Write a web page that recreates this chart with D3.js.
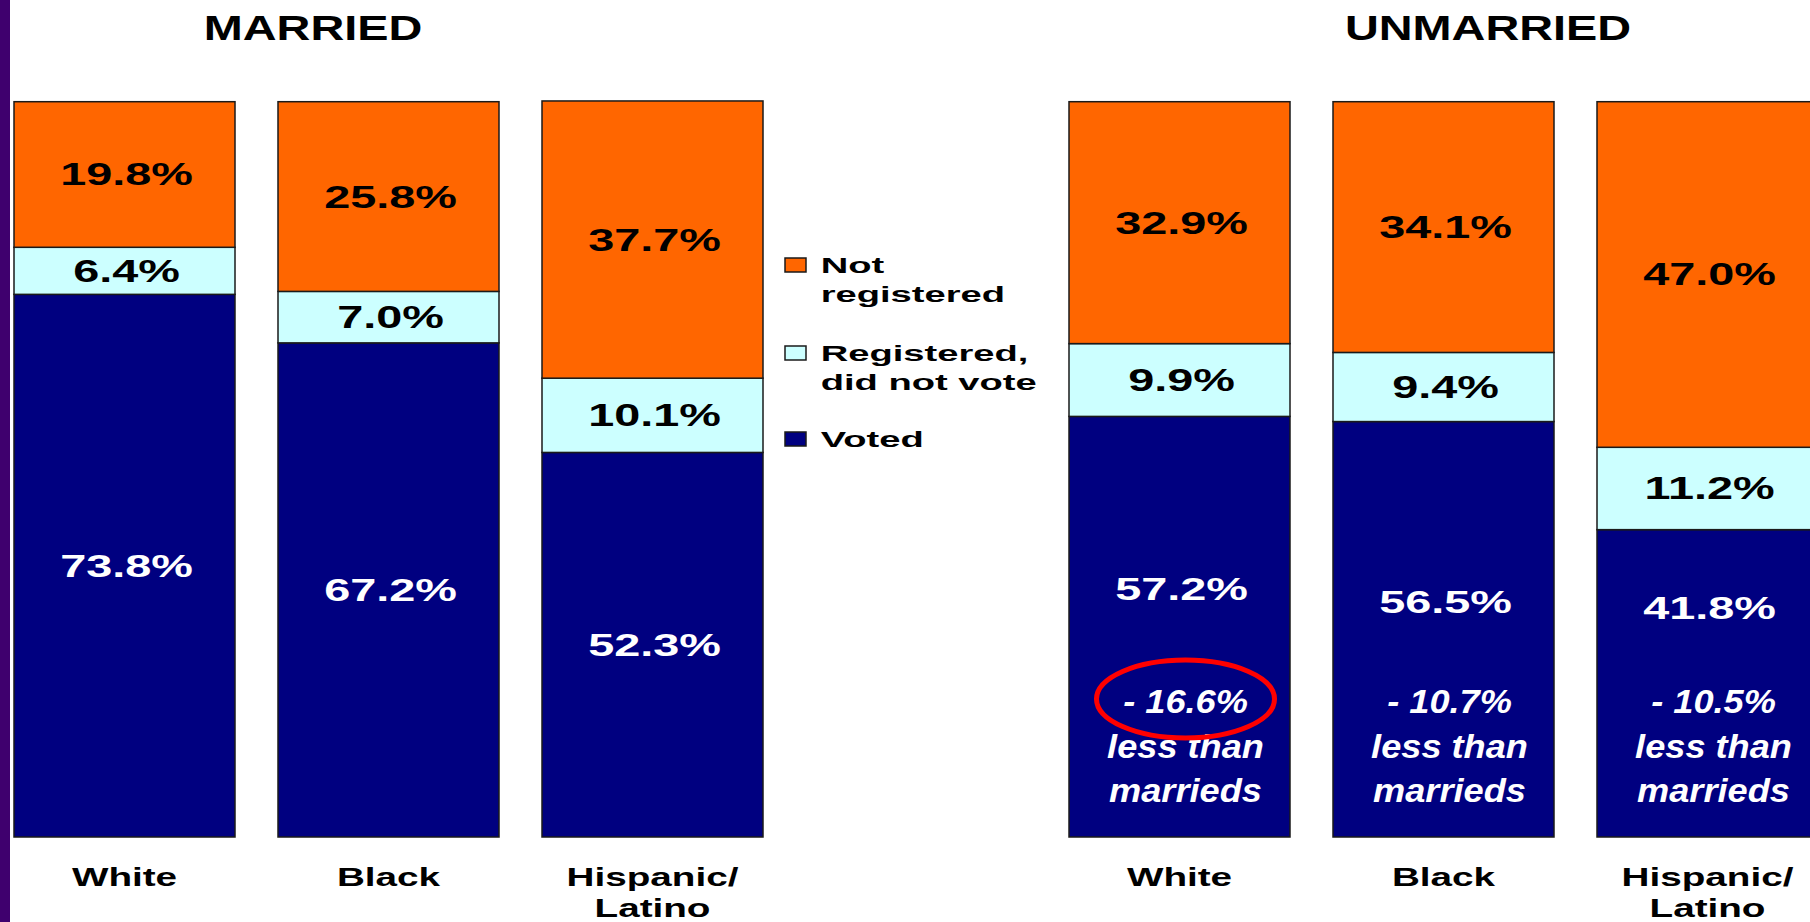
<!DOCTYPE html>
<html>
<head>
<meta charset="utf-8">
<script src="https://cdn.jsdelivr.net/npm/d3@7"></script>
<style>
  html, body { margin: 0; padding: 0; background: #fff; }
  svg { display: block; }
  text { font-family: "Liberation Sans", Arial, sans-serif; font-weight: bold; }
</style>
</head>
<body>
<svg id="chart" width="1810" height="922"></svg>
<script>
// ---- data ----
const categories = ["White", "Black", "Hispanic/Latino"];
const categoryLines = [["White"], ["Black"], ["Hispanic/", "Latino"]];
const groupTitles = ["MARRIED", "UNMARRIED"];
const seriesNames = ["Voted", "Registered, did not vote", "Not registered"];
const legendLines = [["Not", "registered"], ["Registered,", "did not vote"], ["Voted"]];

const marriedVoted = [73.8, 67.2, 52.3];
const marriedRegNoVote = [6.4, 7.0, 10.1];
const marriedNotRegistered = [19.8, 25.8, 37.7];

const unmarriedVoted = [57.2, 56.5, 41.8];
const unmarriedRegNoVote = [9.9, 9.4, 11.2];
const unmarriedNotRegistered = [32.9, 34.1, 47.0];

// ---- styling ----
const colors = { "Voted": "#000080", "Registered, did not vote": "#CCFFFF", "Not registered": "#FF6600" };
const labelColors = { "Voted": "#ffffff", "Registered, did not vote": "#000000", "Not registered": "#000000" };

const svg = d3.select("#chart");
svg.append("rect").attr("width", 1810).attr("height", 922).attr("fill", "#fff");
svg.append("rect").attr("x", 0).attr("y", 0).attr("width", 10).attr("height", 922).attr("fill", "#3f006e");

const y = d3.scaleLinear().domain([0, 100]).range([837, 101.7]);

// wide text helper: glyphs are stretched horizontally
function wideText(g, x, yy, str, size, sx, anchor, fill, italic) {
  return g.append("text")
    .attr("transform", `translate(${x},${yy}) scale(${sx},1)`)
    .attr("text-anchor", anchor)
    .attr("font-size", size)
    .attr("font-style", italic ? "italic" : "normal")
    .attr("fill", fill)
    .text(str);
}

const panels = [
  { title: groupTitles[0], titleX: 313, range: [14, 763],
    voted: marriedVoted, reg: marriedRegNoVote, notReg: marriedNotRegistered },
  { title: groupTitles[1], titleX: 1488, range: [1069, 1818],
    voted: unmarriedVoted, reg: unmarriedRegNoVote, notReg: unmarriedNotRegistered }
];

// vertical lift of the "Voted" label in the unmarried bars (room for the note below)
const unmarriedVotedLift = [37.7, 26.8, 75.8];

panels.forEach((p, pi) => {
  const g = svg.append("g");
  const x = d3.scaleBand().domain(categories).range(p.range).paddingInner(43 / 264).paddingOuter(0);

  // title
  wideText(g, p.titleX, 39.5, p.title, 35.5, 1.32, "middle", "#000");

  const rows = categories.map((c, i) => ({
    cat: c,
    "Voted": p.voted[i],
    "Registered, did not vote": p.reg[i],
    "Not registered": p.notReg[i]
  }));
  const stack = d3.stack().keys(seriesNames)(rows);

  stack.forEach(layer => {
    const key = layer.key;
    layer.forEach((d, i) => {
      const cat = d.data.cat;
      g.append("rect")
        .attr("x", x(cat))
        .attr("y", y(d[1]))
        .attr("width", x.bandwidth())
        .attr("height", y(d[0]) - y(d[1]))
        .attr("fill", colors[key])
        .attr("stroke", "#1a1a1a")
        .attr("stroke-width", 1.5);

      const v = d[1] - d[0];
      let cy = (y(d[0]) + y(d[1])) / 2;
      if (pi === 1 && key === "Voted") cy -= unmarriedVotedLift[i];
      wideText(g, x(cat) + x.bandwidth() / 2 + 2, cy + 11, v.toFixed(1) + "%", 30.8, 1.52, "middle", labelColors[key]);
    });
  });

  // category labels
  categories.forEach((c, i) => {
    categoryLines[i].forEach((line, li) => {
      wideText(g, x(c) + x.bandwidth() / 2, 885.7 + li * 31, line, 26.5, 1.46, "middle", "#000");
    });
  });

  // unmarried: difference in turnout vs. married
  if (pi === 1) {
    categories.forEach((c, i) => {
      const diff = marriedVoted[i] - unmarriedVoted[i];
      const cx = x(c) + x.bandwidth() / 2 + 6;
      wideText(g, cx, 713, "- " + diff.toFixed(1) + "%", 33.5, 1.08, "middle", "#fff", true);
      wideText(g, cx, 758, "less than", 33.5, 1.08, "middle", "#fff", true);
      wideText(g, cx, 801.7, "marrieds", 33.5, 1.08, "middle", "#fff", true);
      if (i === 0) {
        g.append("ellipse")
          .attr("cx", cx).attr("cy", 699)
          .attr("rx", 89).attr("ry", 39)
          .attr("fill", "none").attr("stroke", "#ff0000").attr("stroke-width", 5);
      }
    });
  }
});

// legend
const legendKeys = ["Not registered", "Registered, did not vote", "Voted"];
const legendTops = [258, 346, 432];
const lg = svg.append("g");
legendKeys.forEach((k, i) => {
  lg.append("rect")
    .attr("x", 785).attr("y", legendTops[i])
    .attr("width", 21).attr("height", 14)
    .attr("fill", colors[k]).attr("stroke", "#1a1a1a").attr("stroke-width", 1.5);
  legendLines[i].forEach((line, li) => {
    wideText(lg, 820.7, legendTops[i] + 14.5 + li * 29, line, 21.3, 1.79, "start", "#000");
  });
});
</script>
</body>
</html>
